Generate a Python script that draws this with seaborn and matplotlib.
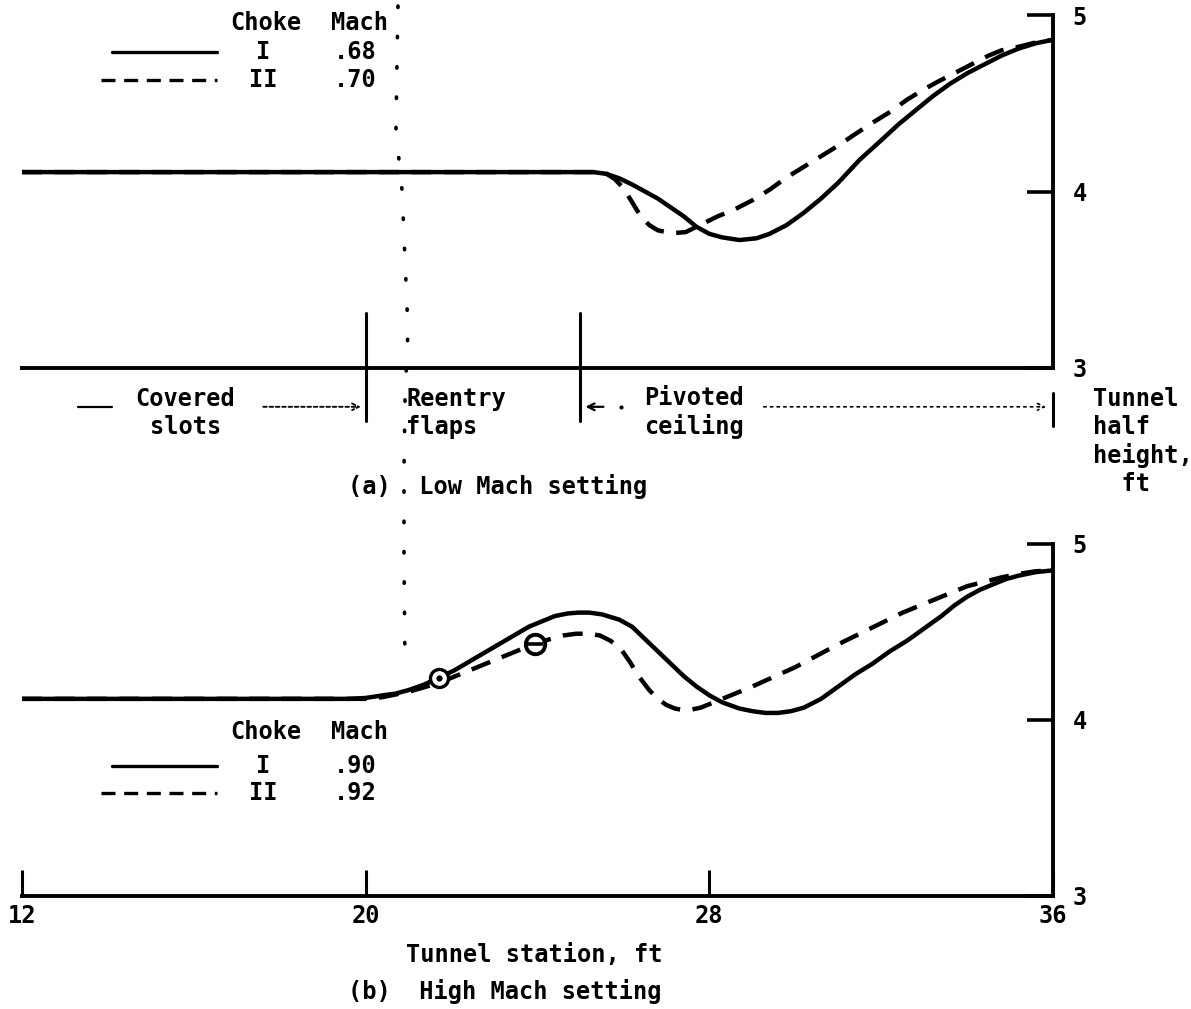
import numpy as np
import pandas as pd
import matplotlib
matplotlib.use("Agg")
import matplotlib.pyplot as plt
from matplotlib.lines import Line2D
import seaborn as sns

# ---------------- data ----------------
# (a) Low Mach setting
low_I_x = [12, 24.5, 25.0, 25.3, 25.6, 25.9, 26.2, 26.5, 26.8, 27.1, 27.4, 27.7, 28.0, 28.3, 28.7, 29.1, 29.4, 29.8, 30.2, 30.6, 31.0, 31.5, 32.0, 32.4, 32.8, 33.2, 33.6, 34.0, 34.4, 34.8, 35.2, 35.6, 36]
low_I_y = [4.11, 4.11, 4.11, 4.11, 4.10, 4.075, 4.04, 4.00, 3.96, 3.91, 3.86, 3.80, 3.76, 3.74, 3.725, 3.735, 3.76, 3.81, 3.88, 3.96, 4.05, 4.18, 4.29, 4.38, 4.46, 4.54, 4.61, 4.67, 4.72, 4.77, 4.81, 4.84, 4.86]
low_II_x = [12, 24.5, 25.3, 25.55, 25.8, 26.0, 26.2, 26.4, 26.6, 26.8, 27.0, 27.2, 27.45, 27.7, 28.2, 28.6, 29.0, 29.4, 29.8, 30.2, 30.6, 31.0, 31.3, 31.8, 32.2, 32.6, 33.0, 33.3, 33.7, 34.1, 34.5, 34.8, 35.2, 35.6, 36]
low_II_y = [4.11, 4.11, 4.11, 4.11, 4.07, 4.02, 3.94, 3.86, 3.81, 3.78, 3.77, 3.765, 3.77, 3.80, 3.86, 3.90, 3.95, 4.01, 4.08, 4.14, 4.20, 4.26, 4.31, 4.39, 4.45, 4.52, 4.58, 4.62, 4.67, 4.72, 4.77, 4.80, 4.82, 4.845, 4.86]

# (b) High Mach setting
high_I_x = [12, 19.6, 20.0, 20.4, 20.7, 21.0, 21.35, 21.7, 22.05, 22.4, 22.75, 23.1, 23.45, 23.8, 24.1, 24.4, 24.7, 24.95, 25.2, 25.5, 25.9, 26.2, 26.5, 26.8, 27.1, 27.4, 27.7, 28.0, 28.3, 28.7, 29.0, 29.3, 29.6, 29.9, 30.2, 30.6, 31.0, 31.4, 31.8, 32.2, 32.6, 33.0, 33.4, 33.7, 34.0, 34.3, 34.6, 34.9, 35.2, 35.6, 36]
high_I_y = [4.12, 4.12, 4.125, 4.14, 4.15, 4.17, 4.20, 4.24, 4.28, 4.33, 4.38, 4.43, 4.48, 4.53, 4.56, 4.59, 4.605, 4.61, 4.61, 4.60, 4.57, 4.53, 4.46, 4.39, 4.32, 4.25, 4.19, 4.14, 4.10, 4.065, 4.05, 4.04, 4.04, 4.05, 4.07, 4.12, 4.19, 4.26, 4.32, 4.39, 4.45, 4.52, 4.59, 4.65, 4.70, 4.74, 4.77, 4.80, 4.82, 4.84, 4.85]
high_II_x = [12, 19.6, 20.0, 20.4, 21.0, 21.7, 22.4, 23.1, 23.9, 24.3, 24.6, 24.9, 25.2, 25.45, 25.7, 25.95, 26.15, 26.35, 26.6, 26.8, 27.0, 27.2, 27.4, 27.6, 27.8, 28.0, 28.2, 28.6, 29.0, 29.5, 30.0, 30.5, 31.0, 31.5, 32.0, 32.5, 33.0, 33.5, 34.0, 34.4, 34.8, 35.2, 35.6, 36]
high_II_y = [4.12, 4.12, 4.12, 4.13, 4.16, 4.21, 4.28, 4.35, 4.43, 4.46, 4.48, 4.49, 4.49, 4.48, 4.45, 4.40, 4.33, 4.25, 4.17, 4.12, 4.085, 4.065, 4.055, 4.06, 4.07, 4.09, 4.11, 4.15, 4.19, 4.245, 4.30, 4.365, 4.43, 4.49, 4.55, 4.61, 4.66, 4.71, 4.76, 4.785, 4.81, 4.83, 4.845, 4.85]

# symbols on the high Mach curves
dot_circle_pt = (21.7, 4.24)
theta_circle_pt = (23.93, 4.43)

chokes = ["I", "II"]
low_mach = [".68", ".70"]
high_mach = [".90", ".92"]

x_ticks = [12, 20, 28, 36]
y_ticks = [3, 4, 5]
region_bounds = [20, 25]
region_labels = ["Covered\nslots", "Reentry\nflaps", "Pivoted\nceiling"]

# ---------------- style ----------------
sns.set_theme(style="white")
INK = "black"
plt.rcParams["font.family"] = ["DejaVu Sans Mono", "DejaVu Sans"]
plt.rcParams["font.weight"] = "bold"
plt.rcParams["text.color"] = INK
plt.rcParams["axes.labelcolor"] = INK
plt.rcParams["xtick.color"] = INK
plt.rcParams["ytick.color"] = INK
plt.rcParams["axes.edgecolor"] = INK
FS = 17
LW = 3.2
DASH = (0, (4.5, 2.8))

fig = plt.figure(figsize=(11.91, 10.09), dpi=100)
ax1 = fig.add_axes([0.01847, 0.6353, 0.8657, 0.3498])
ax2 = fig.add_axes([0.01847, 0.1120, 0.8657, 0.3489])


def frame(ax):
    ax.set_xlim(12, 36)
    ax.set_ylim(3, 5)
    ax.set_facecolor("none")
    for s in ["top", "left"]:
        ax.spines[s].set_visible(False)
    for s in ["right", "bottom"]:
        ax.spines[s].set_visible(True)
        ax.spines[s].set_linewidth(2.8)
        ax.spines[s].set_color(INK)
    ax.yaxis.tick_right()
    ax.set_yticks(y_ticks)
    ax.set_yticklabels([str(v) for v in y_ticks])
    ax.tick_params(axis="y", direction="in", length=19, width=2.6, pad=14,
                   labelsize=FS, colors=INK, right=True, left=False)
    ax.grid(False)


def draw_curves(ax, xI, yI, xII, yII):
    dfI = pd.DataFrame({"x": xI, "y": yI})
    dfII = pd.DataFrame({"x": xII, "y": yII})
    sns.lineplot(data=dfII, x="x", y="y", ax=ax, color=INK, lw=LW,
                 linestyle=DASH, sort=False, estimator=None, legend=False)
    sns.lineplot(data=dfI, x="x", y="y", ax=ax, color=INK, lw=LW,
                 sort=False, estimator=None, legend=False,
                 solid_capstyle="round", solid_joinstyle="round")
    ax.set_xlabel("")
    ax.set_ylabel("")


def legend_block(ax, y_head, y1, y2, machs):
    ax.text(16.85, y_head, "Choke", fontsize=FS, va="center", ha="left")
    ax.text(19.2, y_head, "Mach", fontsize=FS, va="center", ha="left")
    ax.plot([14.1, 16.55], [y1, y1], color=INK, lw=2.4, clip_on=False)
    ax.plot([13.85, 16.55], [y2, y2], color=INK, lw=2.4, ls=(0, (4.2, 2.6)), clip_on=False)
    ax.text(17.62, y1, chokes[0], fontsize=FS, va="center", ha="center")
    ax.text(17.62, y2, chokes[1], fontsize=FS, va="center", ha="center")
    ax.text(19.25, y1, machs[0], fontsize=FS, va="center", ha="left")
    ax.text(19.25, y2, machs[1], fontsize=FS, va="center", ha="left")


# ---------------- (a) ----------------
frame(ax1)
draw_curves(ax1, low_I_x, low_I_y, low_II_x, low_II_y)
ax1.set_xticks([])
legend_block(ax1, 4.955, 4.79, 4.63, low_mach)

for b in region_bounds:
    ax1.plot([b, b], [2.70, 3.31], color=INK, lw=2.2, clip_on=False)
ax1.plot([36, 36], [2.67, 2.86], color=INK, lw=2.2, clip_on=False)

row_y = 2.745
ax1.text(15.8, row_y, region_labels[0], fontsize=FS, ha="center", va="center",
         linespacing=1.2)
ax1.text(20.95, row_y, region_labels[1], fontsize=FS, ha="left", va="center",
         linespacing=1.2)
ax1.text(27.65, row_y, region_labels[2], fontsize=FS, ha="center", va="center",
         linespacing=1.2)
arrow_y = 2.78
ax1.plot([13.3, 14.1], [arrow_y, arrow_y], color=INK, lw=1.6, clip_on=False)
ax1.annotate("", xy=(19.95, arrow_y), xytext=(17.55, arrow_y),
             arrowprops=dict(arrowstyle="->", color=INK, lw=1.3, ls=(0, (2, 1.5))),
             annotation_clip=False)
ax1.annotate("", xy=(25.05, arrow_y), xytext=(25.6, arrow_y),
             arrowprops=dict(arrowstyle="->", color=INK, lw=1.6),
             annotation_clip=False)
ax1.plot([25.95], [arrow_y], marker=".", color=INK, ms=4, clip_on=False)
ax1.annotate("", xy=(35.9, arrow_y), xytext=(29.2, arrow_y),
             arrowprops=dict(arrowstyle="->", color=INK, lw=1.2, ls=(0, (1.5, 2.5))),
             annotation_clip=False)

ax1.text(36.92, 2.89, "Tunnel\nhalf\nheight,\n  ft", fontsize=FS, ha="left",
         va="top", linespacing=1.2)
ax1.text(19.6, 2.33, "(a)  Low Mach setting", fontsize=FS, ha="left", va="center")

# ---------------- (b) ----------------
frame(ax2)
draw_curves(ax2, high_I_x, high_I_y, high_II_x, high_II_y)
ax2.set_xticks(x_ticks)
ax2.set_xticklabels([str(v) for v in x_ticks])
ax2.tick_params(axis="x", direction="in", length=19, width=2.2, pad=6,
                labelsize=FS, colors=INK, bottom=True, top=False)
legend_block(ax2, 3.93, 3.74, 3.585, high_mach)

# symbols
ax2.plot([dot_circle_pt[0]], [dot_circle_pt[1]], marker="o", ms=13, mfc="white",
         mec=INK, mew=2.4, zorder=5)
ax2.plot([dot_circle_pt[0]], [dot_circle_pt[1]], marker="o", ms=3.5, color=INK, zorder=6)
ax2.plot([theta_circle_pt[0]], [theta_circle_pt[1]], marker="o", ms=14, mfc="white",
         mec=INK, mew=2.8, zorder=5)
ax2.plot([theta_circle_pt[0]], [theta_circle_pt[1]], marker="_", ms=11, mew=2.6,
         color=INK, zorder=6)

ax2.text(20.94, 2.665, "Tunnel station, ft", fontsize=FS, ha="left", va="center")
ax2.text(19.6, 2.46, "(b)  High Mach setting", fontsize=FS, ha="left", va="center")

# dotted vertical trace crossing the figure (as in the scan)
dot_px = [(398, 6), (397, 60), (396, 130), (402, 190), (405, 260), (408, 330),
          (405, 400), (404, 470), (404, 560), (405, 665)]
fx = [p[0] / 1191 for p in dot_px]
fy = [1 - p[1] / 1009 for p in dot_px]
fig.add_artist(Line2D(fx, fy, transform=fig.transFigure, color=INK, lw=2.6,
                      ls=(0, (0.4, 8)), dash_capstyle="round"))

fig.savefig("out.png", dpi=100, facecolor="white")
